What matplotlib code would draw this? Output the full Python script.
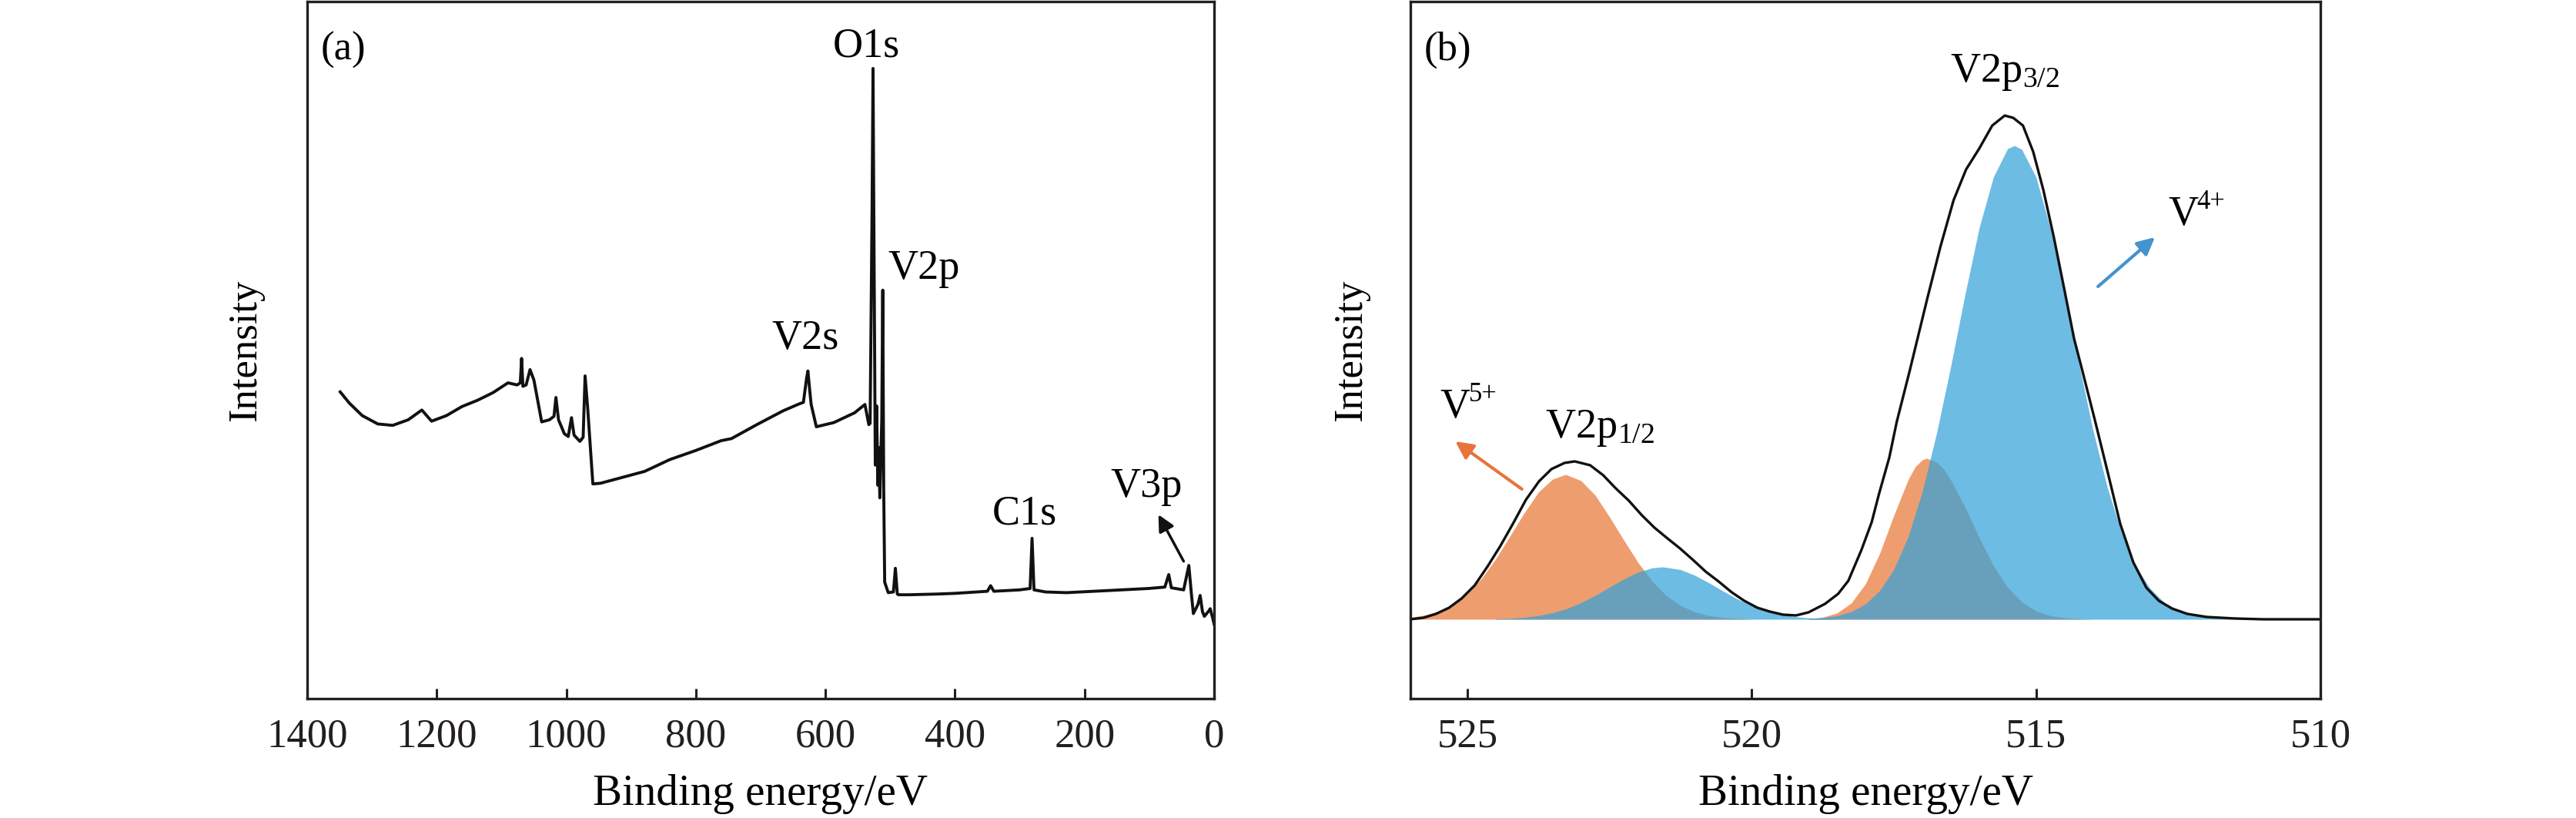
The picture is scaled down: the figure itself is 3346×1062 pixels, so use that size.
import matplotlib
matplotlib.use("Agg")
import matplotlib.pyplot as plt

plt.rcParams['font.family'] = ['Liberation Serif', 'DejaVu Serif']
plt.rcParams['mathtext.fontset'] = 'stix'

# (a) espectro completo: energia de enlace (eV) e intensidad (u.a.)
survey_be = [1349, 1335, 1315, 1291, 1268, 1244, 1223, 1208, 1185, 1161, 1137, 1113,
             1090, 1076, 1071, 1069, 1067, 1062, 1056, 1050, 1038, 1026, 1019, 1016,
             1012, 1003, 997, 992, 988, 979, 974, 971, 967, 959, 947, 923, 879, 840,
             800, 761, 745, 706, 665, 640, 634, 629, 627, 624, 622, 614, 587, 555,
             539, 533, 531, 528, 526.5, 525, 523, 521, 519, 517.5, 516, 513, 511.5,
             510, 508.5, 503, 495, 492, 489, 487, 470, 428, 400, 350, 345, 340, 300,
             284, 281, 278, 260, 228, 164, 101, 76, 70, 66, 47, 39, 35, 32, 25, 21.5,
             18, 15, 8, 6, 2, 0]
survey_int = [44.0, 42.4, 40.6, 39.4, 39.2, 40.0, 41.4, 39.8, 40.6, 41.9, 42.8, 43.9,
              45.3, 45.0, 45.3, 48.8, 44.8, 45.0, 47.2, 45.7, 39.7, 40.0, 40.5, 43.2,
              40.0, 38.0, 37.6, 40.3, 37.8, 36.9, 37.5, 46.3, 41.7, 30.8, 30.9, 31.5,
              32.6, 34.3, 35.6, 37.0, 37.3, 39.3, 41.3, 42.3, 42.5, 46.0, 47.0, 44.0,
              42.2, 39.0, 39.6, 41.0, 42.2, 39.3, 39.5, 70.0, 90.4, 65.0, 33.5, 42.0,
              30.6, 36.0, 28.8, 40.0, 58.6, 30.0, 16.7, 15.2, 15.3, 18.7, 15.0, 14.9,
              14.9, 15.0, 15.1, 15.4, 16.2, 15.4, 15.6, 15.8, 23.0, 15.6, 15.3, 15.2,
              15.5, 15.8, 16.0, 17.8, 15.9, 15.6, 19.1, 15.0, 12.2, 13.5, 14.8, 12.5,
              11.8, 12.6, 12.9, 11.5, 10.7]

# (b) V2p de alta resolucion: envolvente y componentes ajustadas
env_be = [526.00, 525.77, 525.55, 525.32, 525.10, 524.87, 524.64, 524.42, 524.19, 523.97,
          523.74, 523.52, 523.29, 523.11, 522.84, 522.61, 522.39, 522.16, 521.93, 521.71,
          521.48, 521.26, 521.03, 520.81, 520.58, 520.35, 520.13, 519.90, 519.68, 519.45,
          519.22, 519.00, 518.71, 518.48, 518.30, 518.07, 517.89, 517.76, 517.58, 517.45,
          517.22, 516.91, 516.68, 516.45, 516.23, 516.00, 515.77, 515.55, 515.40, 515.23,
          515.05, 514.87, 514.69, 514.51, 514.33, 514.19, 513.96, 513.74, 513.52, 513.29,
          513.06, 512.84, 512.61, 512.34, 512.00, 511.50, 511.00, 510.00]
env_int = [0, 2, 7, 15, 27, 44, 69, 95, 125, 155,
           179, 195, 203, 205, 200, 187, 170, 154, 135, 119,
           105, 92, 77, 62, 49, 35, 24, 15, 10, 6,
           5, 9, 20, 33, 50, 90, 126, 163, 210, 256,
           323, 417, 484, 544, 584, 611, 641, 654, 651, 641,
           607, 557, 497, 431, 364, 324, 257, 191, 124, 74,
           41, 24, 14, 7, 3, 1, 0, 0]

v5_p12_be = [526.0, 525.75, 525.5, 525.25, 525.0, 524.75, 524.5, 524.25, 524.0, 523.75,
             523.5, 523.27, 523.0, 522.75, 522.5, 522.25, 522.0, 521.75, 521.5, 521.25,
             521.0, 520.75, 520.5, 520.25, 520.0]
v5_p12_int = [2.5, 5.4, 10.6, 19.5, 33.3, 53.0, 78.4, 108, 138, 165,
              182, 188, 180, 161, 133, 103, 74, 49.5, 30.7, 17.8,
              9.6, 4.8, 2.2, 1.0, 0]

v4_p12_be = [524.5, 524.25, 524.0, 523.75, 523.5, 523.25, 523.0, 522.75, 522.5, 522.25,
             522.0, 521.75, 521.56, 521.25, 521.0, 520.75, 520.5, 520.25, 520.0, 519.75,
             519.5, 519.25, 519.0, 518.75, 518.5]
v4_p12_int = [0.6, 1.2, 2.5, 4.8, 8.5, 14.0, 21.6, 31.0, 41.7, 52.2,
              61.1, 66.7, 68, 64.5, 57.1, 47.3, 36.5, 26.3, 17.7, 11.1,
              6.5, 3.5, 1.8, 0.9, 0]

v5_p32_be = [519.0, 518.75, 518.5, 518.25, 518.0, 517.75, 517.5, 517.25, 517.125, 517.0,
             516.92, 516.75, 516.625, 516.5, 516.25, 516.0, 515.75, 515.5, 515.25, 515.0,
             514.75, 514.5, 514.25, 514.0]
v5_p32_int = [0.8, 2.7, 8.1, 21.0, 45.9, 85.3, 135, 181, 198, 207,
              209, 204, 195, 181, 146, 106, 69.8, 41.5, 22.4, 10.9,
              4.8, 1.9, 0.7, 0]

v4_p32_be = [519.0, 518.75, 518.5, 518.25, 518.0, 517.75, 517.5, 517.25, 517.0, 516.75,
             516.5, 516.25, 516.0, 515.75, 515.5, 515.38, 515.25, 515.0, 514.75, 514.5,
             514.25, 514.0, 513.75, 513.5, 513.25, 513.0, 512.75, 512.5, 512.25, 512.0,
             511.75, 511.5]
v4_p32_int = [0.9, 2.1, 4.7, 10.0, 19.9, 37.1, 65.0, 107, 166, 241,
              328, 421, 508, 574, 611, 615, 610, 574, 508, 424,
              333, 246, 172, 113, 69.5, 40.4, 22.1, 11.4, 5.5, 2.5,
              1.1, 0]

orange = '#EE9E6E'
blue = '#35A2DA'
ink = '#231F20'

fig = plt.figure(figsize=(33.46, 10.62), dpi=100)
ax1 = fig.add_axes([399/3346, 155/1062, 1178/3346, 905/1062])
ax2 = fig.add_axes([1832/3346, 155/1062, 1182/3346, 905/1062])

for ax in (ax1, ax2):
    for s in ax.spines.values():
        s.set_linewidth(2.4)
        s.set_color(ink)
    ax.tick_params(axis='x', direction='in', length=9.5, width=2.2, labelsize=38,
                   pad=18, top=False, color=ink, labelcolor=ink)
    ax.tick_params(axis='y', left=False, labelleft=False)

# Panel (a)
ax1.plot(survey_be, survey_int, color='#111111', lw=2.8)
ax1.set_xlim(1400, 0)
ax1.set_ylim(0, 100)
ax1.set_xticks([1400, 1200, 1000, 800, 600, 400, 200, 0])
ax1.text(0.015, 0.916, '(a)', transform=ax1.transAxes, fontsize=38, va='baseline', ha='left')
ax1.text(537, 92.1, 'O1s', fontsize=39, ha='center', va='baseline')
ax1.text(448, 60.2, 'V2p', fontsize=39, ha='center', va='baseline')
ax1.text(631, 50.2, 'V2s', fontsize=39, ha='center', va='baseline')
ax1.text(293, 25.0, 'C1s', fontsize=39, ha='center', va='baseline')
ax1.text(105, 29.0, 'V3p', fontsize=39, ha='center', va='baseline')
ax1.annotate('', xy=(86, 26.4), xytext=(47, 19.7),
             arrowprops=dict(arrowstyle='-|>', color='#111111', lw=2.5,
                             mutation_scale=32, shrinkA=0, shrinkB=0))

# Panel (b)
ax2.fill_between(v5_p12_be, v5_p12_int, 0, color=orange, lw=0)
ax2.fill_between(v5_p32_be, v5_p32_int, 0, color=orange, lw=0)
ax2.fill_between(v4_p12_be, v4_p12_int, 0, color=blue, alpha=0.72, lw=0)
ax2.fill_between(v4_p32_be, v4_p32_int, 0, color=blue, alpha=0.72, lw=0)
ax2.plot(env_be, env_int, color='#111111', lw=2.4)
ax2.set_xlim(526, 510)
ax2.set_ylim(-103, 802)
ax2.set_xticks([525, 520, 515, 510])
ax2.text(0.015, 0.916, '(b)', transform=ax2.transAxes, fontsize=38, va='baseline', ha='left')
ax2.text(515.55, 698, r'V2p$_{\mathregular{3/2}}$', fontsize=39, ha='center', va='baseline')
ax2.text(522.67, 236, r'V2p$_{\mathregular{1/2}}$', fontsize=39, ha='center', va='baseline')

# V5+ y V4+: la V y el superindice como dos textos
for be, h, sup in ((525.48, 262, '5+'), (512.68, 512, '4+')):
    ax2.text(be, h, 'V', fontsize=39, ha='left', va='baseline')
    ax2.annotate(sup, xy=(be, h), xytext=(27, 15), textcoords='offset points',
                 fontsize=25, ha='left', va='baseline')

ax2.annotate('', xy=(525.21, 231), xytext=(524.04, 169),
             arrowprops=dict(arrowstyle='-|>', color='#E8743B', lw=3,
                             mutation_scale=34, shrinkA=0, shrinkB=0))
ax2.annotate('', xy=(512.91, 496), xytext=(513.91, 432),
             arrowprops=dict(arrowstyle='-|>', color='#4393CE', lw=3,
                             mutation_scale=34, shrinkA=0, shrinkB=0))

for ax, xoff in ((ax1, -80/1178), (ax2, -77/1182)):
    ax.set_xlabel('Binding energy/eV', fontsize=41, va='baseline')
    ax.xaxis.set_label_coords(0.5, -138/905)
    ax.set_ylabel('Intensity', fontsize=38, va='center')
    ax.yaxis.set_label_coords(xoff, 0.5)

plt.savefig('out.png', dpi=100)
plt.close()
